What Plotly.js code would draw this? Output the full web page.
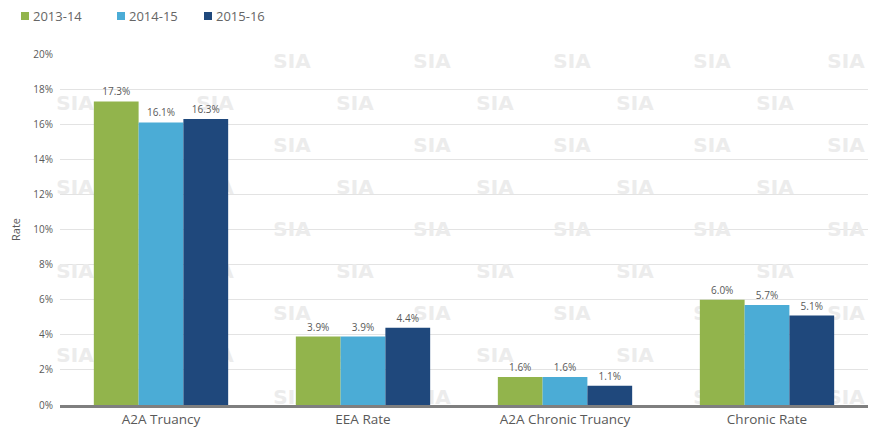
<!DOCTYPE html>
<html><head><meta charset="utf-8">
<script src="https://cdn.plot.ly/plotly-3.0.1.min.js"></script>
<style>html,body{margin:0;padding:0;background:#fff}</style>
</head><body>
<div id="chart" style="width:875px;height:440px"></div>
<script>
const categories = ["A2A Truancy", "EEA Rate", "A2A Chronic Truancy", "Chronic Rate"];
const seriesNames = ["2013-14", "2014-15", "2015-16"];
const v2013 = [17.3, 3.9, 1.6, 6.0];
const v2014 = [16.1, 3.9, 1.6, 5.7];
const v2015 = [16.3, 4.4, 1.1, 5.1];
const colors = ["#92b44c", "#4bacd6", "#1f487c"];
const allVals = [v2013, v2014, v2015];
const watermarkText = "SIA";

// plot geometry (pixels)
const W = 875, H = 440, mL = 60, mR = 7, mT = 54, mB = 35;
const pw = W - mL - mR, ph = H - mT - mB;
const px2x = p => (p - mL) / pw;
const py2y = p => (H - mB - p) / ph;

// faint watermark grid (decorative, drawn behind the bars)
const wmX = [], wmY = [];
for (let r = 0; r < 9; r++) {
  const rowY = 63 + 42 * r;
  const even = r % 2 === 0;
  const xs = even ? [292, 432, 572, 712, 846] : [75, 215, 355, 495, 635, 775];
  xs.forEach(x => { wmX.push(x - mL); wmY.push(H - mB - rowY); });
}
const watermark = {
  type: "scatter", mode: "text", x: wmX, y: wmY,
  text: wmX.map(() => watermarkText),
  textfont: {family: "DejaVu Sans, sans-serif", size: 20, color: "#ececec", weight: "bold"},
  textposition: "middle center", cliponaxis: false,
  xaxis: "x", yaxis: "y", showlegend: false, hoverinfo: "none"
};

const bars = allVals.map((vals, i) => ({
  type: "bar",
  name: seriesNames[i],
  x: categories,
  y: vals.map(v => v / 100),
  xaxis: "x2", yaxis: "y2",
  marker: {color: colors[i]},
  text: vals.map(v => v.toFixed(1) + "%"),
  textposition: "outside",
  textfont: {family: "Open Sans, sans-serif", size: 10, color: "#595959"},
  cliponaxis: false,
  showlegend: false,
  hoverinfo: "none"
}));

// legend drawn by hand at the top-left
const legendSquareX = [21, 117, 204];
const shapes = [], annotations = [];
seriesNames.forEach((n, i) => {
  const x0 = legendSquareX[i];
  shapes.push({type: "rect", xref: "paper", yref: "paper",
    x0: px2x(x0), x1: px2x(x0 + 8), y0: py2y(20), y1: py2y(12),
    fillcolor: colors[i], line: {width: 0}});
  annotations.push({xref: "paper", yref: "paper", x: px2x(x0 + 10), y: py2y(16),
    xanchor: "left", yanchor: "middle", showarrow: false, text: n,
    font: {family: "Open Sans, sans-serif", size: 13, color: "#666666"}});
});

const layout = {
  width: W, height: H,
  margin: {l: mL, r: mR, t: mT, b: mB},
  paper_bgcolor: "#fff", plot_bgcolor: "rgba(0,0,0,0)",
  barmode: "group", bargap: 0.335, bargroupgap: 0,
  font: {family: "Open Sans, sans-serif", color: "#595959"},
  showlegend: false,
  shapes: shapes, annotations: annotations,
  xaxis: {range: [0, pw], visible: false, fixedrange: true},
  yaxis: {range: [0, ph], visible: false, fixedrange: true},
  xaxis2: {
    overlaying: "x", anchor: "y2",
    showgrid: false, showline: true, linecolor: "#7f7f7f", linewidth: 3,
    ticks: "", tickfont: {size: 13.5, color: "#595959"}
  },
  yaxis2: {
    overlaying: "y", anchor: "x2", side: "left",
    range: [0, 0.2], dtick: 0.02, tickformat: ".0%",
    showgrid: true, gridcolor: "#e3e3e3", gridwidth: 1, zeroline: false,
    ticks: "", tickfont: {size: 10, color: "#595959"}, ticklabelstandoff: 6,
    title: {text: "Rate", font: {size: 11, color: "#595959"}, standoff: 10}
  }
};
Plotly.newPlot("chart", [watermark].concat(bars), layout, {displayModeBar: false, staticPlot: true});
</script>
</body></html>
